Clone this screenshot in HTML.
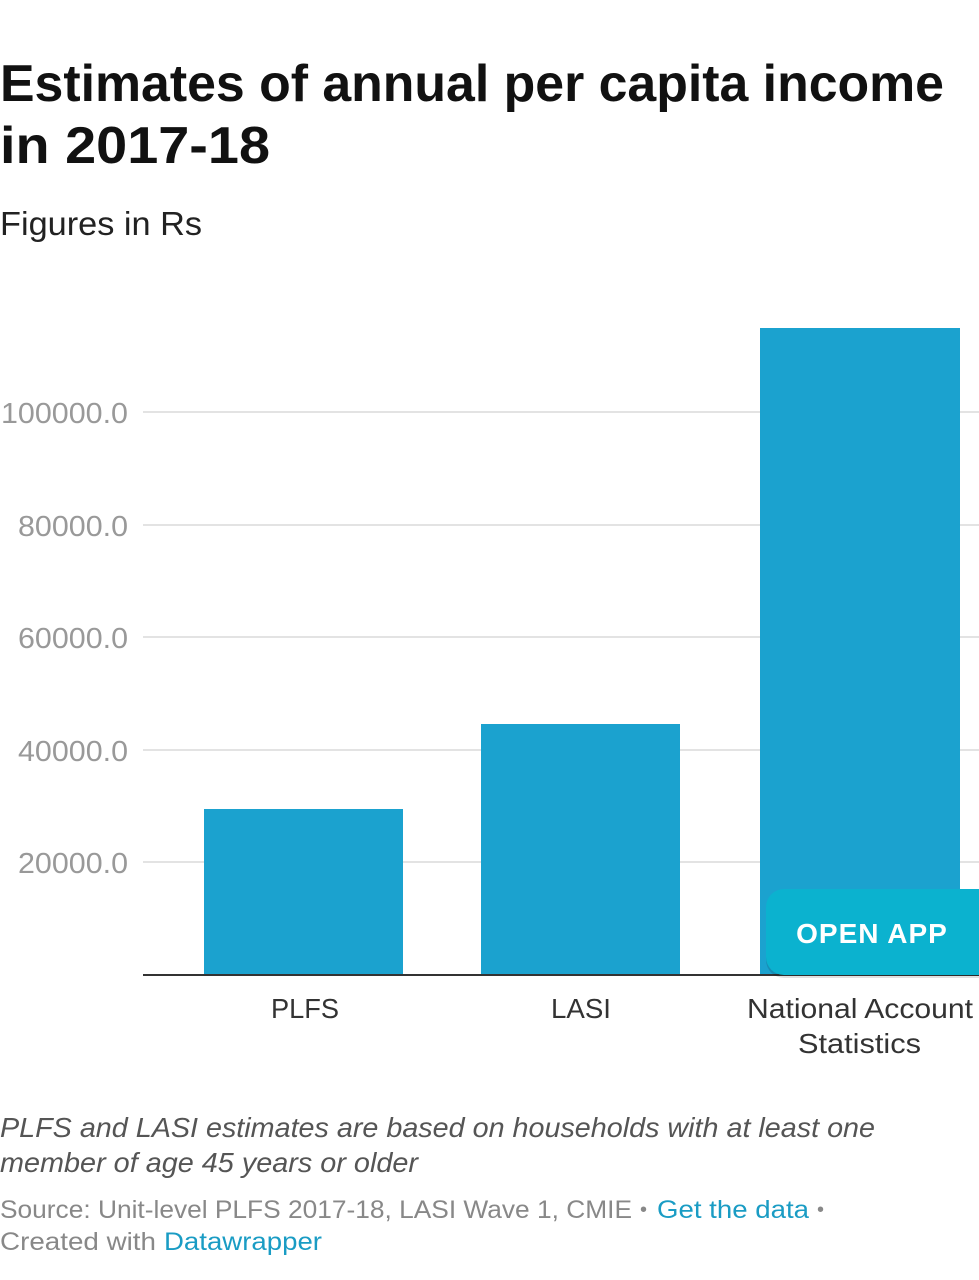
<!DOCTYPE html>
<html><head><meta charset="utf-8"><style>
html,body{margin:0;padding:0;background:#fff;}
svg{display:block;}
text{font-family:"Liberation Sans",sans-serif;}
</style></head><body>
<svg width="979" height="1280" viewBox="0 0 979 1280" xmlns="http://www.w3.org/2000/svg">
<rect width="979" height="1280" fill="#fff"/>
<text x="0" y="101" font-size="52" font-weight="bold" fill="#111" textLength="944" lengthAdjust="spacingAndGlyphs">Estimates of annual per capita income</text>
<text x="0" y="163" font-size="52" font-weight="bold" fill="#111" textLength="270" lengthAdjust="spacingAndGlyphs">in 2017-18</text>
<text x="0" y="235" font-size="33" fill="#222" textLength="202" lengthAdjust="spacingAndGlyphs">Figures in Rs</text>
<g stroke="#e3e3e3" stroke-width="2">
<line x1="143" y1="412" x2="979" y2="412"/>
<line x1="143" y1="525" x2="979" y2="525"/>
<line x1="143" y1="637" x2="979" y2="637"/>
<line x1="143" y1="750" x2="979" y2="750"/>
<line x1="143" y1="862" x2="979" y2="862"/>
</g>
<g font-size="29" fill="#999">
<text x="1" y="423" textLength="127" lengthAdjust="spacingAndGlyphs">100000.0</text>
<text x="18" y="536" textLength="110" lengthAdjust="spacingAndGlyphs">80000.0</text>
<text x="18" y="648" textLength="110" lengthAdjust="spacingAndGlyphs">60000.0</text>
<text x="18" y="761" textLength="110" lengthAdjust="spacingAndGlyphs">40000.0</text>
<text x="18" y="873" textLength="110" lengthAdjust="spacingAndGlyphs">20000.0</text>
</g>
<g fill="#1ba2cf">
<rect x="204" y="809" width="199" height="166"/>
<rect x="481" y="724" width="199" height="251"/>
<rect x="760" y="328" width="200" height="647"/>
</g>
<line x1="143" y1="975" x2="979" y2="975" stroke="#333" stroke-width="2"/>
<rect x="766" y="889" width="230" height="86" rx="18" fill="#000" opacity="0.12" transform="translate(0,3)"/>
<rect x="766" y="889" width="230" height="86" rx="18" fill="#0bb2cf"/>
<text x="872" y="943" font-size="28" font-weight="bold" fill="#fff" text-anchor="middle" letter-spacing="1">OPEN APP</text>
<g font-size="28" fill="#333">
<text x="271" y="1018" textLength="68" lengthAdjust="spacingAndGlyphs">PLFS</text>
<text x="551" y="1018" textLength="60" lengthAdjust="spacingAndGlyphs">LASI</text>
<text x="747" y="1018" textLength="226" lengthAdjust="spacingAndGlyphs">National Account</text>
<text x="798" y="1053" textLength="123" lengthAdjust="spacingAndGlyphs">Statistics</text>
</g>
<g font-size="28" fill="#555" font-style="italic">
<text x="0" y="1137" textLength="875" lengthAdjust="spacingAndGlyphs">PLFS and LASI estimates are based on households with at least one</text>
<text x="0" y="1172" textLength="418" lengthAdjust="spacingAndGlyphs">member of age 45 years or older</text>
</g>
<text x="0" y="1218" font-size="25" fill="#888" textLength="632" lengthAdjust="spacingAndGlyphs">Source: Unit-level PLFS 2017-18, LASI Wave 1, CMIE</text>
<text x="640" y="1216" font-size="20" fill="#888">•</text>
<text x="657" y="1218" font-size="25" fill="#1a9cc4" textLength="152" lengthAdjust="spacingAndGlyphs">Get the data</text>
<text x="817" y="1216" font-size="20" fill="#888">•</text>
<text x="0" y="1250" font-size="25" fill="#888" textLength="156" lengthAdjust="spacingAndGlyphs">Created with</text>
<text x="164" y="1250" font-size="25" fill="#1a9cc4" textLength="158" lengthAdjust="spacingAndGlyphs">Datawrapper</text>
</svg>
</body></html>
